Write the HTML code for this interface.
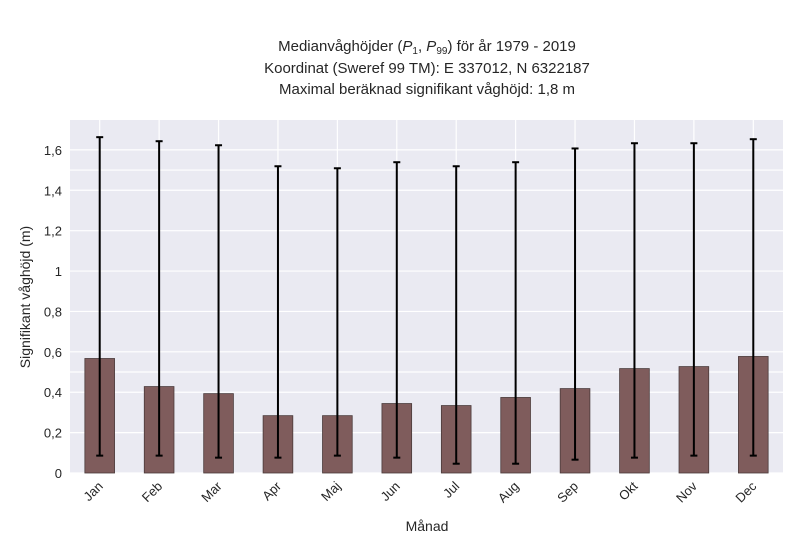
<!DOCTYPE html>
<html><head><meta charset="utf-8"><style>
body{margin:0;background:#fff;font-family:"Liberation Sans",sans-serif;}
svg text{font-family:"Liberation Sans",sans-serif;fill:#262626;}
</style></head><body>
<svg id="chart" width="800" height="550">
<text x="427" y="51" font-size="15" text-anchor="middle">Medianvåghöjder (<tspan font-style="italic">P</tspan><tspan font-size="10" dy="3">1</tspan><tspan dy="-3">, </tspan><tspan font-style="italic">P</tspan><tspan font-size="10" dy="3">99</tspan><tspan dy="-3">) för år 1979 - 2019</tspan></text>
<text x="427" y="73" font-size="15" text-anchor="middle">Koordinat (Sweref 99 TM): E 337012, N 6322187</text>
<text x="427" y="94" font-size="15" text-anchor="middle">Maximal beräknad signifikant våghöjd: 1,8 m</text>
<rect x="70" y="120" width="713" height="353" fill="#eaeaf2"/>
<g id="grid"></g><g id="bars"></g><g id="axes"></g>
<text x="427" y="531" font-size="14" text-anchor="middle">Månad</text>
<text transform="translate(30,297) rotate(-90)" font-size="14" text-anchor="middle">Signifikant våghöjd (m)</text>
</svg>
<script>
const months=["Jan","Feb","Mar","Apr","Maj","Jun","Jul","Aug","Sep","Okt","Nov","Dec"];
const medians=[0.567,0.428,0.393,0.284,0.284,0.344,0.334,0.374,0.418,0.517,0.527,0.577];
const p99=[1.663,1.643,1.623,1.519,1.509,1.539,1.519,1.539,1.607,1.633,1.633,1.653];
const p1=[0.086,0.086,0.076,0.076,0.086,0.076,0.046,0.046,0.066,0.076,0.086,0.086];
const yTicks=[0,0.2,0.4,0.6,0.8,1,1.2,1.4,1.6];
const yTickLabels=["0","0,2","0,4","0,6","0,8","1","1,2","1,4","1,6"];
const extraGrid=[0.5,1.5];
const NS="http://www.w3.org/2000/svg";
const L=70,R=783,T=120,B=473,YMAX=1.748;
const y=v=>B-(v/YMAX)*(B-T);
const step=(R-L)/months.length;
const x=i=>L+step*(i+0.5);
function mk(t,a,p){const e=document.createElementNS(NS,t);for(const k in a)e.setAttribute(k,a[k]);p.appendChild(e);return e;}
const g=document.getElementById('grid'),b=document.getElementById('bars'),ax=document.getElementById('axes');
yTicks.concat(extraGrid).forEach(v=>{
 const l=mk('line',{x1:L,x2:R,y1:y(v),y2:y(v),stroke:'#fff','stroke-width':1.2},g);
 
 
});
months.forEach((m,i)=>{
 const l=mk('line',{x1:x(i),x2:x(i),y1:T,y2:B,stroke:'#fff','stroke-width':1.2},g);
 
 
});
yTicks.forEach((v,i)=>{
 const t=mk('text',{x:L-8,y:y(v)+5,'font-size':13,'text-anchor':'end'},ax);
 t.textContent=yTickLabels[i];
 
 
});
months.forEach((m,i)=>{
 const w=step*0.5;
 const r=mk('rect',{x:x(i)-w/2,y:y(medians[i]),width:w,height:B-y(medians[i]),fill:'#7f5c5c',stroke:'#4a3a3a','stroke-width':0.8},b);
 
 
 const e=mk('g',{stroke:'#000','stroke-width':2},b);
 
 
 mk('line',{x1:x(i),x2:x(i),y1:y(p99[i]),y2:y(p1[i])},e);
 mk('line',{x1:x(i)-3.5,x2:x(i)+3.5,y1:y(p99[i]),y2:y(p99[i])},e);
 mk('line',{x1:x(i)-3.5,x2:x(i)+3.5,y1:y(p1[i]),y2:y(p1[i])},e);
 const t=mk('text',{x:x(i)+4,y:B+14,'font-size':13,'text-anchor':'end',transform:`rotate(-45 ${x(i)+4} ${B+14})`},ax);
 t.textContent=m;
 
 
});
</script>
</body></html>
